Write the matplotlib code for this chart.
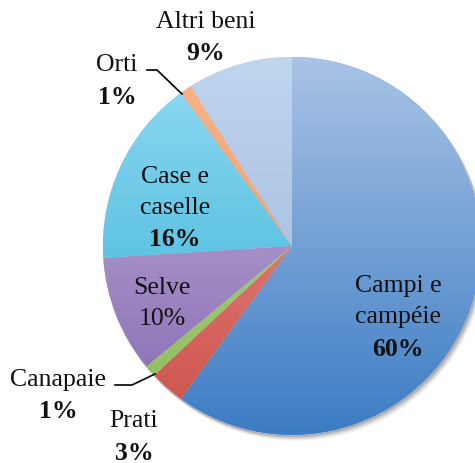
import matplotlib

matplotlib.use("Agg")
import matplotlib.pyplot as plt
import numpy as np
from matplotlib.colors import LinearSegmentedColormap
from matplotlib.patches import Circle

# slice data, clockwise from 12 o'clock
names = ["Campi e\ncampéie", "Prati", "Canapaie", "Selve", "Case e\ncaselle", "Orti", "Altri beni"]
shares = [60, 3, 1, 10, 16, 1, 9]
pct_bold = [True, True, True, False, True, True, True]
top_colors = ["#a9c3e5", "#ea9a96", "#b2d68c", "#c5b6da", "#92daf4", "#f7b48a", "#c0d5ee"]
bottom_colors = ["#3c7cc4", "#cc5048", "#8cbc5c", "#8468b2", "#2fb0d2", "#ee9456", "#98b2da"]

W, H = 475, 463
CX, CY, R = 292, H - 246, 189

# label anchor (x, y of the first line) in pixels from top-left
label_pos = [(398, 286), (134, 421), (58, 380), (162, 288), (175, 177), (117, 65), (206, 22)]
LINE = 31

fig = plt.figure(figsize=(W / 100, H / 100), dpi=100)
ax = fig.add_axes([0, 0, 1, 1])
ax.set_xlim(0, W)
ax.set_ylim(0, H)
ax.set_aspect("equal")
ax.axis("off")

# soft shadow to bottom-right
for k, a in zip(range(6, 0, -1), [0.05, 0.06, 0.08, 0.1, 0.12, 0.14]):
    ax.add_patch(Circle((CX + k * 0.7, CY - k * 0.9), R + 0.5, color="#404040", alpha=a, lw=0, zorder=1))

wedges, _ = ax.pie(shares, startangle=90, counterclock=False, center=(CX, CY), radius=R,
                   wedgeprops=dict(linewidth=0.4, edgecolor="#e8eef6"), frame=True)
ax.set_xlim(0, W)
ax.set_ylim(0, H)
ax.axis("off")

grad = np.linspace(1, 0, 256).reshape(-1, 1)
for w, c0, c1 in zip(wedges, top_colors, bottom_colors):
    w.set_zorder(2)
    cmap = LinearSegmentedColormap.from_list("g", [c1, c0])
    im = ax.imshow(grad, cmap=cmap, extent=(CX - R, CX + R, CY - R, CY + R),
                   aspect="auto", zorder=2.5, origin="upper", vmin=0, vmax=1)
    im.set_clip_path(w)

font = "Liberation Serif"
for name, share, bold, (x, y) in zip(names, shares, pct_bold, label_pos):
    lines = name.split("\n")
    for i, ln in enumerate(lines):
        ax.text(x, H - (y + i * LINE), ln, ha="center", va="center", fontsize=18.5,
                family=font, color="#111111", zorder=5)
    ax.text(x, H - (y + len(lines) * LINE + (1 if bold else 0)), f"{share}%", ha="center",
            va="center", fontsize=18.5, family=font, color="#111111",
            fontweight="bold" if bold else "normal", zorder=5)

# leader lines for the thin slices
ax.plot([147, 157, 182], [H - 70, H - 70, H - 94], color="black", lw=1.2, zorder=5)
ax.plot([115, 132, 155], [H - 385, H - 385, H - 374], color="black", lw=1.2, zorder=5)

fig.savefig("out.png", dpi=100, facecolor="white")
